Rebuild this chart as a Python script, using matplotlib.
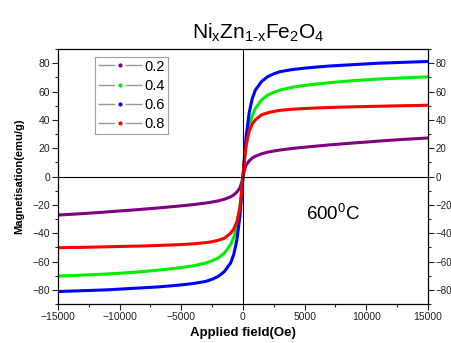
import numpy as np
import matplotlib
matplotlib.use('Agg')
import matplotlib.pyplot as plt
from matplotlib.lines import Line2D
from matplotlib.ticker import MultipleLocator

plt.rcParams['font.family'] = ['Liberation Sans', 'DejaVu Sans']
plt.rcParams['mathtext.fontset'] = 'custom'
plt.rcParams['mathtext.rm'] = 'Liberation Sans'

# positive-field branch (Oe); negative side is the mirrored branch
H = [0, 100, 250, 500, 750, 1000, 1500, 2000, 2500, 3000, 4000, 5000,
     6000, 7000, 8000, 9000, 10000, 11000, 12000, 13000, 14000, 15000]
M_02 = [0, 4, 8, 11, 13, 14.3, 16, 17.2, 18, 18.7, 19.8, 20.7,
        21.5, 22.3, 23, 23.7, 24.3, 25, 25.6, 26.2, 26.7, 27.2]
M_04 = [0, 10, 22, 35, 43, 48, 54, 57.5, 59.5, 61, 63, 64.3,
        65.3, 66.2, 67, 67.7, 68.3, 68.8, 69.2, 69.6, 70, 70.3]
M_06 = [0, 12, 28, 45, 55, 61, 67, 70.5, 72.5, 74, 75.5, 76.5,
        77.3, 78, 78.5, 79, 79.5, 80, 80.3, 80.6, 80.9, 81.2]
M_08 = [0, 10, 22, 32, 37, 40, 43.5, 45, 46, 46.7, 47.5, 48,
        48.4, 48.7, 49, 49.2, 49.4, 49.6, 49.8, 50, 50.1, 50.3]

labels = ['0.2', '0.4', '0.6', '0.8']
colors = ['#800080', '#00ee00', '#0000ff', '#ff0000']
series = [M_02, M_04, M_06, M_08]


def full(h, m):
    h = np.array(h, dtype=float)
    m = np.array(m, dtype=float)
    return np.concatenate([-h[::-1], h[1:]]), np.concatenate([-m[::-1], m[1:]])


fig = plt.figure(figsize=(4.51, 3.43), dpi=100)
ax = fig.add_axes([0.1286, 0.1137, 0.8204, 0.7434])

for m, c in zip(series, colors):
    x, y = full(H, m)
    ax.plot(x, y, color=c, lw=2.2, solid_capstyle='round')

ax.axhline(0, color='k', lw=0.8)
ax.axvline(0, color='k', lw=0.8)

ax.set_xlim(-15000, 15000)
ax.set_ylim(-90, 90)
ax.xaxis.set_major_locator(MultipleLocator(5000))
ax.xaxis.set_minor_locator(MultipleLocator(2500))
ax.yaxis.set_major_locator(MultipleLocator(20))
ax.yaxis.set_minor_locator(MultipleLocator(10))
ax.tick_params(which='both', direction='out', labelsize=7.5, width=0.8,
               right=True, labelright=True, top=False, colors='#222222')
ax.tick_params(which='major', length=4, pad=2)
ax.tick_params(which='minor', length=2)
ax.tick_params(axis='y', which='major', pad=1.5)
# right-hand labels a bit smaller so they stay inside the figure
for tick in ax.yaxis.get_major_ticks():
    tick.label2.set_fontsize(7)
for s in ax.spines.values():
    s.set_linewidth(0.9)

ax.set_xlabel('Applied field(Oe)', fontsize=9.5, fontweight='bold', labelpad=3)
ax.set_ylabel('Magnetisation(emu/g)', fontsize=8, fontweight='bold', labelpad=6)

fig.text(0.572, 0.905, r'$\mathrm{Ni_xZn_{1\text{-}x}Fe_2O_4}$', fontsize=15,
         ha='center', va='center')
ax.text(0.67, -26, r'600$^{\mathrm{0}}$C', fontsize=13.5,
        transform=ax.get_yaxis_transform(), va='center')

handles = [Line2D([0], [0], color='#999999', lw=1, linestyle=(0, (12, 7.5, 12, 0)),
                  marker='o', markersize=2,
                  markerfacecolor=c, markeredgecolor=c) for c in colors]
leg = ax.legend(handles, labels, loc='upper left', bbox_to_anchor=(0.1, 0.97),
                fontsize=10.5, frameon=True, fancybox=False, handlelength=3,
                handletextpad=0.2, borderpad=0.2, labelspacing=0.35,
                borderaxespad=0)
leg.get_frame().set_edgecolor('#888888')
leg.get_frame().set_linewidth(0.8)

fig.savefig('out.png', dpi=100)
